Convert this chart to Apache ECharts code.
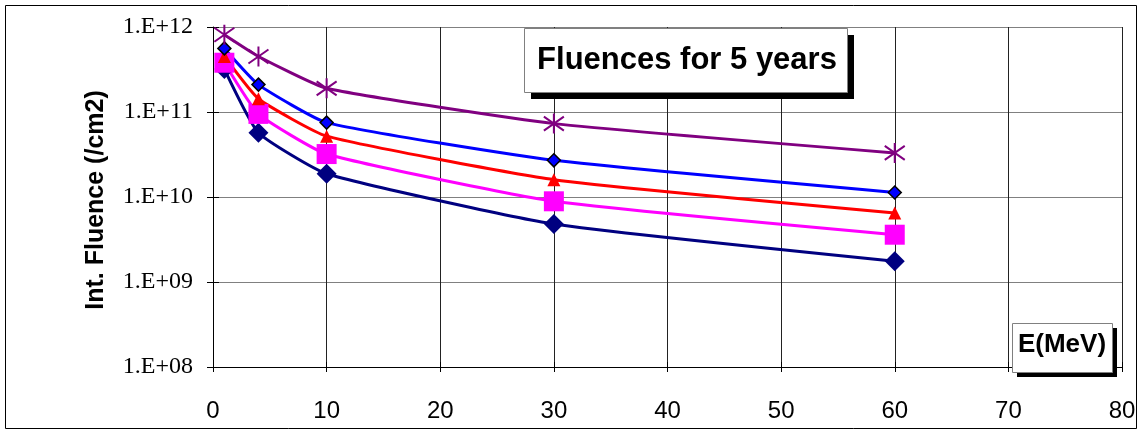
<!DOCTYPE html>
<html>
<head>
<meta charset="utf-8">
<script src="https://cdn.jsdelivr.net/npm/echarts@6/dist/echarts.min.js"></script>
<style>
html,body{margin:0;padding:0;background:#fff;}
#chart{width:1142px;height:431px;}
</style>
</head>
<body>
<div id="chart"></div>
<script>
// Energy thresholds (MeV)
const xValues = [1, 4, 10, 30, 60];
// Series values (integral fluence, /cm2)
const purpleStar = [8.1e11, 4.5e11, 1.9e11, 7.3e10, 3.3e10];
const blueDiamond = [5.6e11, 2.1e11, 7.5e10, 2.7e10, 1.13e10];
const redTriangle = [4.5e11, 1.43e11, 5.2e10, 1.6e10, 6.5e9];
const magentaSquare = [3.8e11, 9.5e10, 3.2e10, 8.9e9, 3.6e9];
const navyDiamond = [3.2e11, 5.7e10, 1.88e10, 4.8e9, 1.75e9];
// Tick labels
const yTickLabels = ['1.E+08', '1.E+09', '1.E+10', '1.E+11', '1.E+12'];
const xTickLabels = ['0', '10', '20', '30', '40', '50', '60', '70', '80'];
const titleText = 'Fluences for 5 years';
const yAxisTitle = 'Int. Fluence (/cm2)';
const xAxisTitle = 'E(MeV)';

function pairs(ys) { return xValues.map((x, i) => [x, ys[i]]); }

const chart = echarts.init(document.getElementById('chart'));
const starPath = 'path://M10,0 L10,20 M1,3 L19,17 M1,17 L19,3';

function lineSeries(data, color, symbol, size, extra) {
  return Object.assign({
    type: 'line',
    data: pairs(data),
    symbol: symbol,
    symbolSize: size,
    smooth: 0.15,
    lineStyle: { color: color, width: 3 },
    itemStyle: { color: color },
    showAllSymbol: true,
    clip: false,
    z: 3
  }, extra || {});
}

const option = {
  animation: false,
  backgroundColor: '#fff',
  grid: { left: 213, right: 20, top: 27, bottom: 64, containLabel: false },
  xAxis: [{
    type: 'value', min: 0, max: 80, interval: 10,
    axisLine: { show: true, lineStyle: { color: '#000', width: 1 } },
    axisTick: { show: true, length: 5, lineStyle: { color: '#000' } },
    axisLabel: {
      margin: 32, fontFamily: 'Liberation Sans, Arial', fontSize: 24, color: '#000',
      formatter: v => xTickLabels[Math.round(v / 10)]
    },
    splitLine: { show: true, lineStyle: { color: '#222', width: 1 } }
  }, {
    type: 'value', min: 0, max: 80, interval: 10, position: 'bottom',
    axisLine: { show: false },
    axisTick: { show: true, inside: true, length: 5, lineStyle: { color: '#000' } },
    axisLabel: { show: false }, splitLine: { show: false }
  }],
  yAxis: [{
    type: 'log', logBase: 10, min: 1e8, max: 1e12, splitNumber: 4,
    axisLine: { show: true, lineStyle: { color: '#000', width: 1 } },
    axisTick: { show: true, length: 6, lineStyle: { color: '#000' } },
    axisLabel: {
      margin: 20, fontFamily: 'Liberation Serif, Times New Roman', fontSize: 24, color: '#000',
      formatter: v => yTickLabels[Math.round(Math.log10(v)) - 8]
    },
    splitLine: { show: true, lineStyle: { color: '#808080', width: 1 } },
    minorTick: { show: false }
  }, {
    type: 'log', logBase: 10, min: 1e8, max: 1e12, splitNumber: 4, position: 'left',
    axisLine: { show: false },
    axisTick: { show: true, inside: true, length: 6, lineStyle: { color: '#000' } },
    axisLabel: { show: false }, splitLine: { show: false }
  }],
  series: [
    lineSeries(navyDiamond, '#000080', 'diamond', 20),
    lineSeries(magentaSquare, '#FF00FF', 'rect', 20),
    lineSeries(redTriangle, '#FF0000', 'triangle', 13),
    lineSeries(blueDiamond, '#0000FF', 'diamond', 13, {
      itemStyle: { color: '#0000FF', borderColor: '#000', borderWidth: 1.5 }
    }),
    lineSeries(purpleStar, '#800080', starPath, 20, {
      itemStyle: { color: 'rgba(0,0,0,0)', borderColor: '#800080', borderWidth: 2 }
    })
  ],
  graphic: [
    // outer border
    { type: 'rect', shape: { x: 5.5, y: 5.5, width: 1131, height: 423 },
      style: { fill: 'none', stroke: '#000', lineWidth: 1 }, z: 0, silent: true },
    // title box shadow + box
    { type: 'rect', shape: { x: 531, y: 35, width: 323, height: 64 },
      style: { fill: '#000' }, z: 10 },
    { type: 'rect', shape: { x: 524.5, y: 28.5, width: 323, height: 64 },
      style: { fill: '#fff', stroke: '#808080', lineWidth: 1 }, z: 11 },
    { type: 'text', x: 687, y: 60, z: 12,
      style: { text: titleText, fill: '#000', fontFamily: 'Liberation Sans, Arial',
        fontWeight: 'bold', fontSize: 31, textAlign: 'center', textVerticalAlign: 'middle' } },
    // x axis title box
    { type: 'rect', shape: { x: 1017, y: 328, width: 100, height: 49 },
      style: { fill: '#000' }, z: 10 },
    { type: 'rect', shape: { x: 1012.5, y: 323.5, width: 100, height: 49 },
      style: { fill: '#fff', stroke: '#808080', lineWidth: 1 }, z: 11 },
    { type: 'text', x: 1062, y: 345, z: 12,
      style: { text: xAxisTitle, fill: '#000', fontFamily: 'Liberation Sans, Arial',
        fontWeight: 'bold', fontSize: 26, textAlign: 'center', textVerticalAlign: 'middle' } },
    // y axis title
    { type: 'text', x: 96, y: 200, rotation: Math.PI / 2, z: 12,
      style: { text: yAxisTitle, fill: '#000', fontFamily: 'Liberation Sans, Arial',
        fontWeight: 'bold', fontSize: 25, textAlign: 'center', textVerticalAlign: 'middle' } }
  ]
};
chart.setOption(option);
</script>
</body>
</html>
